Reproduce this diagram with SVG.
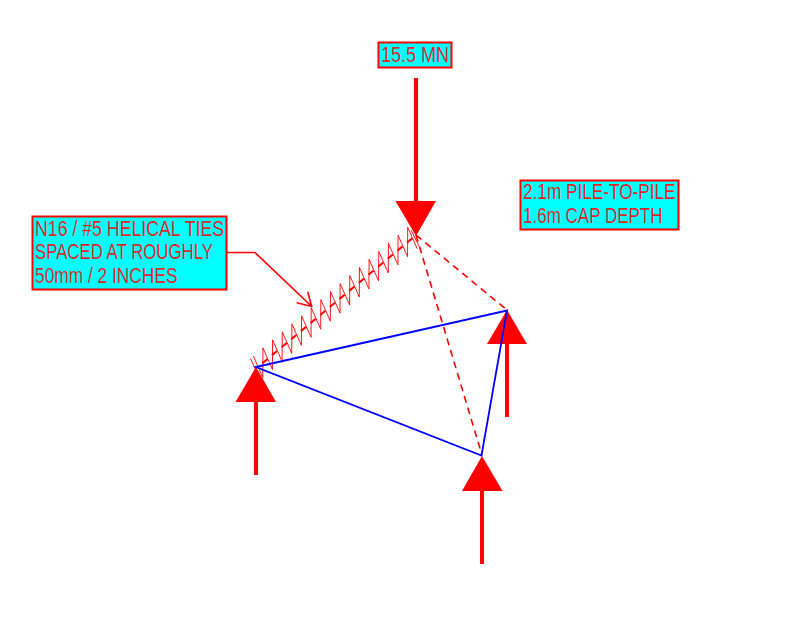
<svg xmlns="http://www.w3.org/2000/svg" width="800" height="626" viewBox="0 0 800 626">
<style>
.box{fill:#00ffff;stroke:#ff0000;stroke-width:2}
.lbl{font-family:"Liberation Sans",Arial,sans-serif;font-size:22px;fill:#ff0000;stroke:none;fill-opacity:.85}
.force{fill:none;stroke:#ff0000;stroke-width:4}
.head{fill:#ff0000;stroke:none}
.tie{fill:none;stroke:#ff0000;stroke-width:2}
.strut{fill:none;stroke:#ff0000;stroke-width:1.6;stroke-dasharray:7 5}
.tri{fill:none;stroke:#0000ff;stroke-width:1.8}
.leader{fill:none;stroke:#ff0000;stroke-width:1.6}
</style>
<rect width="800" height="626" fill="#ffffff"/>
<g id="load-top">
<path class="force" d="M416 78V202"/>
<path class="head" d="M395.5 201H436L416 236Z"/>
</g>
<g id="reaction-left">
<path class="force" d="M256 401V475"/>
<path class="head" d="M256 367L276 402H235.5Z"/>
</g>
<g id="reaction-right">
<path class="force" d="M507 343V417"/>
<path class="head" d="M507 310L527 344H487Z"/>
</g>
<g id="reaction-bottom">
<path class="force" d="M482 490V564"/>
<path class="head" d="M482 456L502.5 491H462Z"/>
</g>
<g id="connectors">
<path class="strut" d="M416 235L507 310"/>
<path class="strut" d="M416 235L482 455"/>
<g id="helix">
<path fill="none" stroke="#ff0000" stroke-width=".9" d="M250.5 358.5L259 378M253.3 356L262.8 377.5L262.95 347.95L272.45 369.45L272.6 339.9L282.1 361.4L282.25 331.85L291.75 353.35L291.9 323.8L301.4 345.3L301.55 315.75L311.05 337.25L311.2 307.7L320.7 329.2L320.85 299.65L330.35 321.15L330.5 291.6L340 313.1L340.15 283.55L349.65 305.05L349.8 275.5L359.3 297L359.45 267.45L368.95 288.95L369.1 259.4L378.6 280.9L378.75 251.35L388.25 272.85L388.4 243.3L397.9 264.8L398.05 235.25L407.55 256.75L407.7 227.2L417.2 248.7M411 230L419 246"/>
<path class="tie" transform="translate(-2.2 2.6)" d="M264.5 360.7L269.7 356.5M274.15 352.65L279.35 348.45M283.8 344.6L289 340.4M293.45 336.55L298.65 332.35M303.1 328.5L308.3 324.3M312.75 320.45L317.95 316.25M322.4 312.4L327.6 308.2M332.05 304.35L337.25 300.15M341.7 296.3L346.9 292.1M351.35 288.25L356.55 284.05M361 280.2L366.2 276M370.65 272.15L375.85 267.95M380.3 264.1L385.5 259.9M389.95 256.05L395.15 251.85M399.6 248L404.8 243.8M409.25 239.95L414.45 235.75"/>
</g>
<path class="tri" d="M256 367L507 310.5L481.5 455.5Z"/>
<path class="leader" d="M227 252.5H255L311.7 306.5M307.7 291.7L311.7 306.5L296.7 302.7"/>
</g>
<g id="label-load">
<rect class="box" x="378.5" y="42.5" width="73" height="25"/>
<text class="lbl" x="381" y="61.5" textLength="68" lengthAdjust="spacingAndGlyphs">15.5 MN</text>
</g>
<g id="label-ties">
<rect class="box" x="32.5" y="216.5" width="194" height="73"/>
<text class="lbl" x="35" y="235.5" textLength="189" lengthAdjust="spacingAndGlyphs">N16 / #5 HELICAL TIES</text>
<text class="lbl" x="35" y="259" textLength="178" lengthAdjust="spacingAndGlyphs">SPACED AT ROUGHLY</text>
<text class="lbl" x="35" y="282.5" textLength="142.5" lengthAdjust="spacingAndGlyphs">50mm / 2 INCHES</text>
</g>
<g id="label-geometry">
<rect class="box" x="520.5" y="180.5" width="158" height="49"/>
<text class="lbl" x="523" y="198.5" textLength="152.5" lengthAdjust="spacingAndGlyphs">2.1m PILE-TO-PILE</text>
<text class="lbl" x="523" y="222.5" textLength="139.5" lengthAdjust="spacingAndGlyphs">1.6m CAP DEPTH</text>
</g>
</svg>
